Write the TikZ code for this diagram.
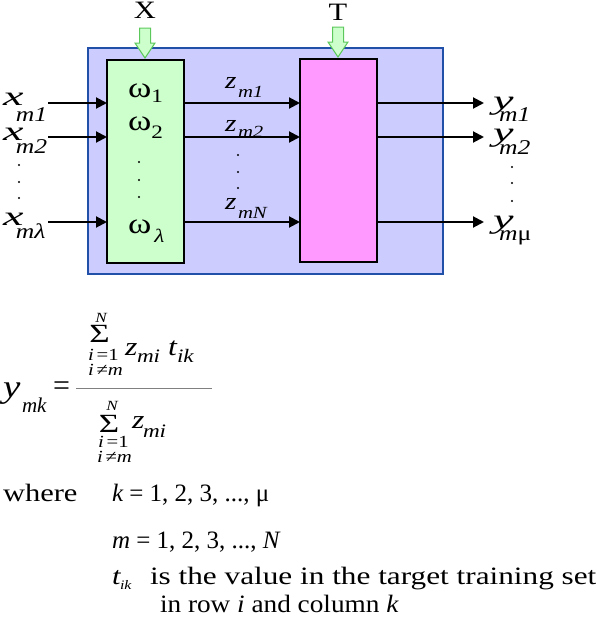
\documentclass[tikz,border=0pt]{standalone}
\usepackage{fontspec}
\setmainfont[FakeStretch=1.22]{Liberation Serif}
\newfontfamily\plainf{Liberation Serif}
\usetikzlibrary{arrows.meta}
\newcommand\fs[1]{\fontsize{#1}{#1}\selectfont}
\newcommand\bigit[2]{\scalebox{#2}[1]{\fs{27}\itshape #1}}
\newcommand\bigsig{\scalebox{1.4}[1.05]{\plainf\fs{25}Σ}}
\definecolor{bluef}{HTML}{CCCCFF}
\definecolor{blueb}{HTML}{2050A8}
\definecolor{greenf}{HTML}{CCFFCC}
\definecolor{greenb}{HTML}{5CC85C}
\definecolor{pinkf}{HTML}{FF99FF}
\begin{document}
\begin{tikzpicture}[x=1pt,y=-1pt,
  every node/.style={inner sep=0pt,outer sep=0pt},
  lab/.style={anchor=base west},
  sig/.style={-{Triangle[length=11pt,width=11pt]},line width=2pt},
  dotn/.style={circle,fill=black,minimum size=2.4pt,inner sep=0pt},
  gshape/.style={fill=greenf,draw=greenb,line width=1pt,line join=miter}]
\useasboundingbox (0,0) rectangle (600,621);
% boxes
\node[draw=blueb,fill=bluef,line width=2pt,minimum width=355pt,minimum height=226pt,anchor=north west] (outer) at (88,48) {};
\node[draw=black,fill=greenf,line width=2pt,minimum width=77pt,minimum height=203pt,anchor=north west] (green) at (107,60) {};
\node[draw=black,fill=pinkf,line width=2pt,minimum width=77pt,minimum height=203pt,anchor=north west] (pink) at (300,59) {};
% X and T
\node[anchor=base,font=\fs{25}] (X) at (145,19) {X};
\node[anchor=base,font=\fs{25}] (T) at (338,20) {T};
\draw[gshape] (139.5,28) -- (150.5,28) -- (150.5,43) -- (155,43) -- (145,58) -- (135,43) -- (139.5,43) -- cycle;
\draw[gshape] (332.5,27) -- (343.5,27) -- (343.5,42) -- (348,42) -- (338,57) -- (328,42) -- (332.5,42) -- cycle;
% rows
\coordinate (r1) at (0,103);
\coordinate (r2) at (0,137);
\coordinate (r3) at (0,222);
\coordinate (xin1) at (48,103);
\coordinate (xin2) at (48,137);
\coordinate (xin3) at (48,222);
\coordinate (yo1) at (484,103);
\coordinate (yo2) at (484,137);
\coordinate (yo3) at (484,222);
\draw[sig] (xin1) -- (xin1 -| green.west);
\draw[sig] (xin2) -- (xin2 -| green.west);
\draw[sig] (xin3) -- (xin3 -| green.west);
\draw[sig] (r1 -| green.east) -- (r1 -| pink.west);
\draw[sig] (r2 -| green.east) -- (r2 -| pink.west);
\draw[sig] (r3 -| green.east) -- (r3 -| pink.west);
\draw[sig] (r1 -| pink.east) -- (yo1);
\draw[sig] (r2 -| pink.east) -- (yo2);
\draw[sig] (r3 -| pink.east) -- (yo3);
% omega labels
\node[lab] (w1) at (128,97) {\fs{29}ω\fs{19}\raisebox{-5pt}{1}};
\node[lab] (w2) at (128,130) {\fs{29}ω\fs{19}\raisebox{-8pt}{2}};
\node[lab] (w3) at (128,233) {\fs{29}ω\hspace{3pt}\fs{19}\raisebox{-9pt}{\itshape λ}};
\node[dotn] (wd1) at (139,162) {};
\node[dotn] (wd2) at (139,180) {};
\node[dotn] (wd3) at (139,197) {};
% x labels
\node[lab] (x1) at (3,105) {\bigit{x}{1.4}};
\node[lab] (x1s) at (16,121) {\fs{21}\itshape m1};
\node[lab] (x2) at (3,140) {\bigit{x}{1.4}};
\node[lab] (x2s) at (16,153) {\fs{21}\itshape m2};
\node[lab] (x3) at (3,225) {\bigit{x}{1.4}};
\node[lab] (x3s) at (16,238) {\fs{21}\itshape mλ};
\node[dotn] (xd1) at (19,165) {};
\node[dotn] (xd2) at (19,182) {};
\node[dotn] (xd3) at (19,198) {};
% y labels
\node[lab] (y1) at (493,109) {\bigit{y}{1.4}};
\node[lab] (y1s) at (499,121) {\fs{21}\itshape m1};
\node[lab] (y2) at (493,141) {\bigit{y}{1.4}};
\node[lab] (y2s) at (499,154) {\fs{21}\itshape m2};
\node[lab] (y3) at (493,228) {\bigit{y}{1.4}};
\node[lab] (y3s) at (499,240) {\fs{21}{\itshape m}μ};
\node[dotn] (yd1) at (512,167) {};
\node[dotn] (yd2) at (512,183) {};
\node[dotn] (yd3) at (512,201) {};
% z labels
\node[lab] (z1) at (225,88) {\fs{24}\itshape z};
\node[lab] (z1s) at (238,97) {\fs{17}\itshape m1};
\node[lab] (z2) at (225,131) {\fs{24}\itshape z};
\node[lab] (z2s) at (238,137) {\fs{17}\itshape m2};
\node[lab] (z3) at (225,209) {\fs{24}\itshape z};
\node[lab] (z3s) at (238,218) {\fs{17}\itshape mN};
\node[dotn] (zd1) at (238,155) {};
\node[dotn] (zd2) at (238,172) {};
\node[dotn] (zd3) at (238,188) {};
% formula
\node[lab] (fy) at (3,397) {\fs{32}\itshape y};
\node[lab] (fys) at (22,412) {\plainf\fs{21}\itshape mk};
\node[anchor=west] (feq) at (53,388.5) {\plainf\fs{30}=};
\coordinate (barl) at (76,388);
\coordinate (barr) at (212,388);
\draw[gray,line width=1pt] (barl) -- (barr);
\node[anchor=base] (nN) at (101,322) {\fs{14}\itshape N};
\node[anchor=base] (nS) at (99.5,342) {\bigsig};
\node[lab] (ni1) at (88,360) {\fs{17}{\itshape i}\,=1};
\node[lab] (ni2) at (88,375) {\fs{17}{\itshape i}\,≠{\itshape m}};
\node[lab] (nz) at (125,355) {\fs{26}\itshape z};
\node[lab] (nzs) at (137,362) {\fs{19}\itshape mi};
\node[lab] (nt) at (168,355) {\fs{26}\itshape t};
\node[lab] (nts) at (177,362) {\fs{19}\itshape ik};
\node[anchor=base] (dN) at (112,410) {\fs{14}\itshape N};
\node[anchor=base] (dS) at (109,432) {\bigsig};
\node[lab] (di1) at (98,447) {\fs{17}{\itshape i}\,=1};
\node[lab] (di2) at (97,462) {\fs{17}{\itshape i}\,≠{\itshape m}};
\node[lab] (dz) at (132,428) {\fs{26}\itshape z};
\node[lab] (dzs) at (143,437) {\fs{19}\itshape mi};
% where
\node[lab] (wh) at (3,501) {\fs{25}where};
\node[lab] (l1) at (112,501) {\plainf\fs{25}{\itshape k} = 1, 2, 3, ..., μ};
\node[lab] (l2) at (112,548) {\plainf\fs{25}{\itshape m} = 1, 2, 3, ..., {\itshape N}};
\node[lab] (l3t) at (112,584) {\fs{25}\itshape t};
\node[lab] (l3s) at (120,589) {\fs{13}\itshape ik};
\node[lab] (l3) at (150,584) {\plainf\scalebox{1.25}[1]{\fs{25}is the value in the target training set}};
\node[lab] (l4) at (160,612) {\plainf\scalebox{1.09}[1]{\fs{25}in row {\itshape i} and column {\itshape k}}};
\end{tikzpicture}
\end{document}
